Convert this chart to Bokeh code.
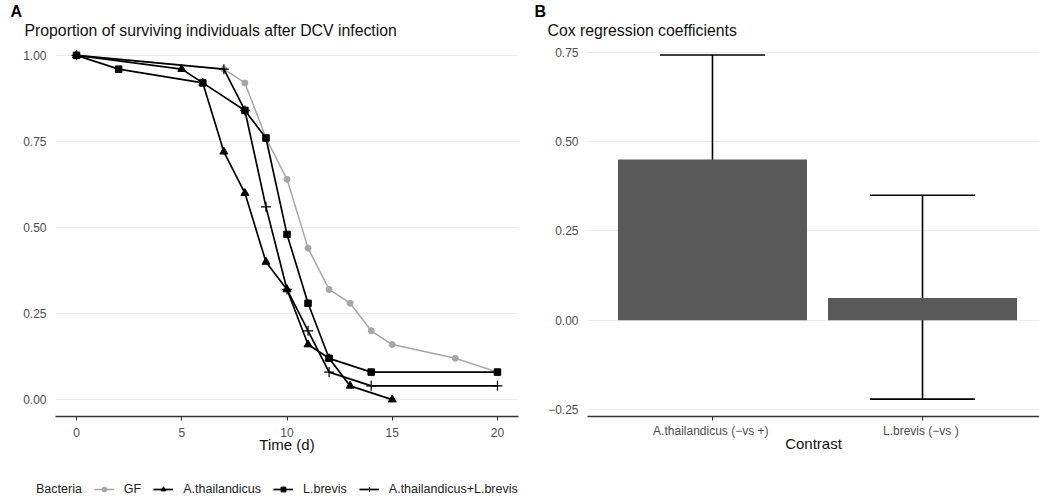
from bokeh.plotting import figure
from bokeh.layouts import row, column
from bokeh.models import (Range1d, FixedTicker, Title, Legend, LegendItem, Whisker,
                          TeeHead, ColumnDataSource, NumeralTickFormatter)
from bokeh.embed import file_html
from bokeh.resources import INLINE

FONT = "Liberation Sans"

# ---------------- data: panel A ----------------
days_gf = [0, 7, 8, 9, 10, 11, 12, 13, 14, 15, 18, 20]
surv_gf = [1.00, 0.96, 0.92, 0.76, 0.64, 0.44, 0.32, 0.28, 0.20, 0.16, 0.12, 0.08]

days_at = [0, 5, 6, 7, 8, 9, 10, 11, 12, 13, 15]
surv_at = [1.00, 0.96, 0.92, 0.72, 0.60, 0.40, 0.32, 0.16, 0.12, 0.04, 0.00]

days_lb = [0, 2, 6, 8, 9, 10, 11, 12, 14, 20]
surv_lb = [1.00, 0.96, 0.92, 0.84, 0.76, 0.48, 0.28, 0.12, 0.08, 0.08]

days_atlb = [0, 7, 8, 9, 10, 11, 12, 14, 20]
surv_atlb = [1.00, 0.96, 0.84, 0.56, 0.32, 0.20, 0.08, 0.04, 0.04]

series_names = ["GF", "A.thailandicus", "L.brevis", "A.thailandicus+L.brevis"]
legend_title = "Bacteria"

x_ticks_a = [0, 5, 10, 15, 20]
y_ticks_a = [0.0, 0.25, 0.5, 0.75, 1.0]

# ---------------- data: panel B ----------------
contrasts = ["A.thailandicus  (\u2212vs +)", "L.brevis  (\u2212vs )"]
coef = [0.45, 0.062]
ci_low = [0.165, -0.221]
ci_high = [0.743, 0.350]
y_ticks_b = [-0.25, 0.0, 0.25, 0.5, 0.75]

GRID = "#ebebeb"
TICKC = "#4d4d4d"
GREY = "#a6a6a6"


def style(p, lab_standoff, title_standoff):
    p.background_fill_color = "white"
    p.border_fill_color = "white"
    p.outline_line_color = None
    p.xgrid.grid_line_color = None
    p.ygrid.grid_line_color = GRID
    p.ygrid.grid_line_width = 1
    for ax in p.yaxis:
        ax.axis_line_color = None
        ax.major_tick_line_color = None
        ax.minor_tick_line_color = None
        ax.major_label_text_font = FONT
        ax.major_label_text_font_size = "12px"
        ax.major_label_text_color = TICKC
        ax.major_label_standoff = 3
    for ax in p.xaxis:
        ax.axis_line_color = "#333333"
        ax.axis_line_width = 1.3
        ax.major_tick_line_color = "#333333"
        ax.major_tick_out = 4
        ax.major_tick_in = 0
        ax.minor_tick_line_color = None
        ax.major_label_text_font = FONT
        ax.major_label_text_font_size = "12px"
        ax.major_label_text_color = TICKC
        ax.major_label_standoff = lab_standoff
        ax.axis_label_text_font = FONT
        ax.axis_label_text_font_size = "15px"
        ax.axis_label_text_font_style = "normal"
        ax.axis_label_text_color = "#111111"
        ax.axis_label_standoff = title_standoff


def add_titles(p, letter, text, off_letter, off_text):
    p.add_layout(Title(text=text, align="left", offset=off_text, standoff=0,
                       text_font=FONT, text_font_size="15.8px", text_font_style="normal",
                       text_color="#111111"), "above")
    p.add_layout(Title(text=letter, align="left", offset=off_letter, standoff=0,
                       text_font=FONT, text_font_size="16px", text_font_style="bold",
                       text_color="#000000"), "above")


# series styles (shared by the plot and the legend strip)
STY = [
    dict(line=dict(line_color=GREY, line_width=1.5),
         mark=dict(marker="circle", size=6, color=GREY)),
    dict(line=dict(line_color="black", line_width=1.7),
         mark=dict(marker="triangle", size=8, color="black")),
    dict(line=dict(line_color="black", line_width=1.7),
         mark=dict(marker="square", size=6.5, color="black")),
    dict(line=dict(line_color="black", line_width=1.7),
         mark=dict(marker="cross", size=10, line_color="black", line_width=1.2)),
]
DATA = [(days_gf, surv_gf), (days_at, surv_at), (days_lb, surv_lb), (days_atlb, surv_atlb)]

# ---------------- panel A ----------------
pa = figure(width=527, height=460, output_backend="svg", toolbar_location=None,
            x_range=Range1d(-1, 21), y_range=Range1d(-0.049, 1.049),
            min_border_left=55, min_border_right=9, min_border_top=38, min_border_bottom=44)
style(pa, 7, -4)
pa.xaxis.ticker = FixedTicker(ticks=x_ticks_a)
pa.yaxis.ticker = FixedTicker(ticks=y_ticks_a)
pa.yaxis.formatter = NumeralTickFormatter(format="0.00")
pa.xaxis.axis_label = "Time (d)"
add_titles(pa, "A", "Proportion of surviving individuals after DCV infection", -45, -31)

for (dx, dy), st in zip(DATA, STY):
    pa.line(dx, dy, **st["line"])
    pa.scatter(dx, dy, **st["mark"])

# ---------------- panel B ----------------
xpos = [i + 1 for i in range(len(contrasts))]
src = ColumnDataSource(dict(x=xpos, top=coef, lower=ci_low, upper=ci_high))

pb = figure(width=512, height=460, output_backend="svg", toolbar_location=None,
            x_range=Range1d(0.405, 2.557), y_range=Range1d(-0.2696, 0.789),
            min_border_left=60, min_border_right=0, min_border_top=38, min_border_bottom=44)
style(pb, 3, -6)
pb.xaxis.ticker = FixedTicker(ticks=xpos)
pb.xaxis.major_label_overrides = {x: c for x, c in zip(xpos, contrasts)}
pb.yaxis.ticker = FixedTicker(ticks=y_ticks_b)
pb.yaxis.formatter = NumeralTickFormatter(format="0.00")
pb.yaxis.major_label_overrides = {-0.25: "\u22120.25"}
pb.xaxis.axis_label = "Contrast"
add_titles(pb, "B", "Cox regression coefficients", -53, -40)

pb.vbar(x="x", top="top", bottom=0, width=0.9, source=src, fill_color="#595959",
        line_color=None)
wh = Whisker(base="x", lower="lower", upper="upper", source=src, line_color="black",
             line_width=1.6,
             lower_head=TeeHead(size=105, line_color="black", line_width=1.6),
             upper_head=TeeHead(size=105, line_color="black", line_width=1.6))
pb.add_layout(wh)

# ---------------- legend strip below the panels ----------------
# legend renderers hold the same series, but this strip's ranges keep them out of view
pl = figure(width=527, height=37, output_backend="svg", toolbar_location=None,
            x_range=Range1d(-1000, -999), y_range=Range1d(-1000, -999),
            x_axis_type=None, y_axis_type=None,
            min_border_left=0, min_border_right=0, min_border_top=0, min_border_bottom=0)
pl.outline_line_color = None
pl.grid.grid_line_color = None
pl.background_fill_color = "white"
pl.border_fill_color = "white"

blank = pl.line(days_gf, surv_gf, line_alpha=0)
items = [LegendItem(label=legend_title, renderers=[blank])]
for name, (dx, dy), st in zip(series_names, DATA, STY):
    lr = pl.line(dx, dy, **st["line"])
    sr = pl.scatter(dx, dy, **st["mark"])
    items.append(LegendItem(label=name, renderers=[lr, sr]))

legend = Legend(items=items, orientation="horizontal", location=(6, 1),
                border_line_color=None, background_fill_alpha=0, padding=0, margin=0,
                spacing=12, glyph_width=20, glyph_height=12, label_standoff=10,
                label_width=0, label_text_font=FONT, label_text_font_size="12.5px",
                label_text_color="#222222")
pl.add_layout(legend, "center")

layout = column(row(pa, pb, spacing=0), pl, spacing=0)
open("out.html", "w").write(file_html(layout, INLINE))
